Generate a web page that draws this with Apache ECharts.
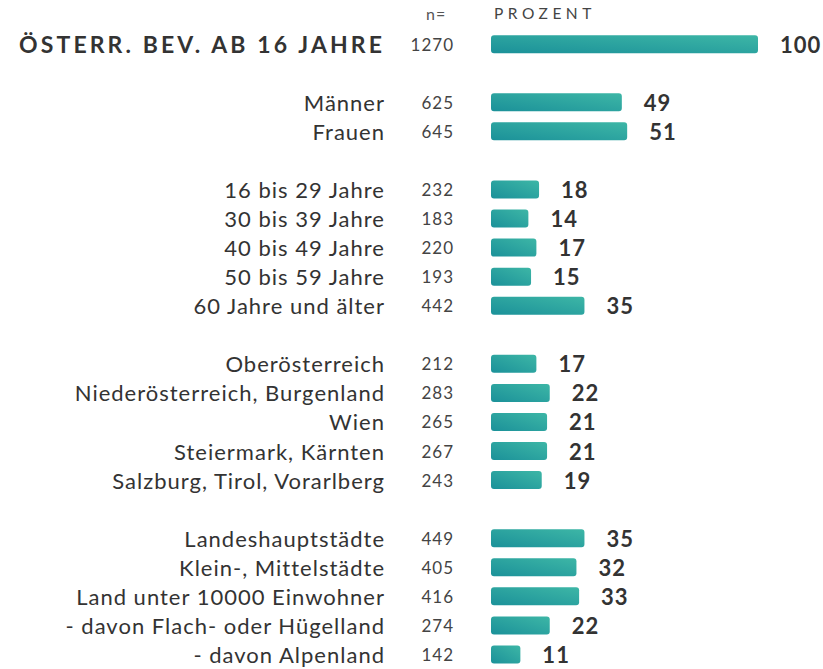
<!DOCTYPE html>
<html>
<head>
<meta charset="utf-8">
<script src="https://cdn.jsdelivr.net/npm/echarts@6/dist/echarts.min.js"></script>
<style>
  html, body { margin: 0; padding: 0; background: #fff; }
  #chart { width: 823px; height: 669px; }
  /* Sperrung der Schrift wie im Original */
  #chart text { letter-spacing: 1px; }
  #chart text[style*="23px"] { letter-spacing: 3.1px; }
  #chart text[style*="15.5px"] { letter-spacing: 4.5px; }
</style>
</head>
<body>
<div id="chart"></div>
<script>
// Kategorien (leere Einträge = Abstand zwischen den Gruppen)
var categories = [
  'ÖSTERR. BEV. AB 16 JAHRE', '',
  'Männer', 'Frauen', '',
  '16 bis 29 Jahre', '30 bis 39 Jahre', '40 bis 49 Jahre', '50 bis 59 Jahre', '60 Jahre und älter', '',
  'Oberösterreich', 'Niederösterreich, Burgenland', 'Wien', 'Steiermark, Kärnten', 'Salzburg, Tirol, Vorarlberg', '',
  'Landeshauptstädte', 'Klein-, Mittelstädte', 'Land unter 10000 Einwohner', '- davon Flach- oder Hügelland', '- davon Alpenland'
]
// Fallzahlen n=
var sampleSizes = [
  1270, null,
  625, 645, null,
  232, 183, 220, 193, 442, null,
  212, 283, 265, 267, 243, null,
  449, 405, 416, 274, 142
]
// Prozent
var percents = [
  100, null,
  49, 51, null,
  18, 14, 17, 15, 35, null,
  17, 22, 21, 21, 19, null,
  35, 32, 33, 22, 11
]
var headerN = 'n='
var headerPct = 'PROZENT'

var FONT = 'Lato, "Noto Sans", sans-serif'

var chart = echarts.init(document.getElementById('chart'), null, { renderer: 'svg' })
chart.setOption({
  animation: false,
  textStyle: { fontFamily: FONT },
  title: [
    {
      text: headerN,
      left: 426,
      top: 5,
      padding: 0,
      textStyle: { fontSize: 16, fontWeight: 'normal', color: '#555', fontFamily: FONT }
    },
    {
      text: headerPct,
      left: 494,
      top: 5,
      padding: 0,
      textStyle: { fontSize: 15.5, fontWeight: 'normal', color: '#444', fontFamily: FONT }
    }
  ],
  grid: {
    left: 491,
    top: 29.65,
    width: 267,
    height: 640.2
  },
  xAxis: {
    type: 'value',
    min: 0,
    max: 100,
    show: false
  },
  yAxis: [
    {
      type: 'category',
      inverse: true,
      data: categories,
      axisLine: { show: false },
      axisTick: { show: false },
      axisLabel: {
        margin: 106,
        interval: 0,
        formatter: function(v, i) {
          return i === 0 ? '{t|' + v + '}' : '{c|' + v + '}'
        },
        rich: {
          t: { fontSize: 23, fontWeight: 'bold', color: '#333', fontFamily: FONT },
          c: { fontSize: 22, color: '#333', fontFamily: FONT }
        }
      }
    },
    {
      type: 'category',
      inverse: true,
      position: 'left',
      data: sampleSizes.map(function(v) { return v == null ? '' : String(v) }),
      axisLine: { show: false },
      axisTick: { show: false },
      axisLabel: {
        margin: 37,
        interval: 0,
        fontSize: 17,
        color: '#444',
        fontFamily: FONT
      }
    }
  ],
  series: [{
    type: 'bar',
    data: percents,
    barWidth: 18,
    itemStyle: {
      borderRadius: 3,
      color: new echarts.graphic.LinearGradient(0, 1, 1, 0, [
        { offset: 0, color: '#1b9199' },
        { offset: 1, color: '#3db6a6' }
      ])
    },
    label: {
      show: true,
      position: 'right',
      distance: 22,
      fontSize: 22,
      fontWeight: 'bold',
      color: '#333',
      fontFamily: FONT
    }
  }]
})
</script>
</body>
</html>
